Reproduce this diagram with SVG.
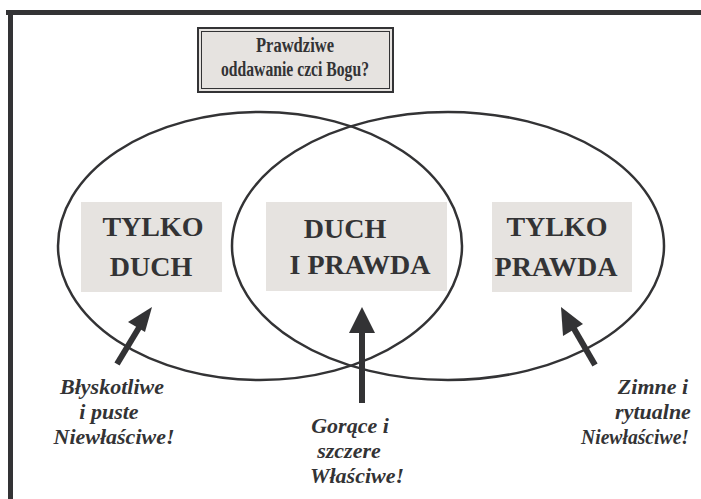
<svg xmlns="http://www.w3.org/2000/svg" width="701" height="499" viewBox="0 0 701 499">
<style>
.frame{fill:#333335}
.ell{fill:none;stroke:#333335;stroke-width:2.5}
.box{fill:#e6e3e0}
.big{font-family:"Liberation Serif","Times New Roman",serif;font-weight:bold;font-size:28px;fill:#333335;text-anchor:middle}
.title{font-family:"Liberation Serif","Times New Roman",serif;font-weight:bold;font-size:20px;fill:#333335;text-anchor:middle}
.lab{font-family:"Liberation Serif","Times New Roman",serif;font-weight:bold;font-style:italic;font-size:22px;fill:#333335;text-anchor:middle}
.arr{stroke:#333335;stroke-width:6;fill:none}
.head{fill:#333335}
</style>
<rect class="frame" x="6" y="10" width="695" height="5"/>
<rect class="frame" x="8" y="10" width="5" height="489"/>
<g id="title">
<rect x="198" y="28" width="195" height="64" fill="#e6e3e0" stroke="#333335" stroke-width="2"/>
<rect x="201.5" y="31.5" width="188" height="57" fill="none" stroke="#333335" stroke-width="1"/>
<text class="title" x="295" y="52" textLength="78" lengthAdjust="spacingAndGlyphs">Prawdziwe</text>
<text class="title" x="295" y="76" textLength="148" lengthAdjust="spacingAndGlyphs">oddawanie czci Bogu?</text>
</g>
<g id="ellipses">
<ellipse class="ell" cx="260" cy="246" rx="202" ry="134"/>
<ellipse class="ell" cx="448" cy="246" rx="216" ry="134"/>
</g>
<g id="tylko-duch">
<rect class="box" x="81" y="202" width="141" height="90"/>
<text class="big" x="153" y="236">TYLKO</text>
<text class="big" x="151" y="276">DUCH</text>
</g>
<g id="duch-i-prawda">
<rect class="box" x="266" y="202" width="181" height="89"/>
<text class="big" x="345" y="238">DUCH</text>
<text class="big" x="360" y="274">I PRAWDA</text>
</g>
<g id="tylko-prawda">
<rect class="box" x="492" y="202" width="140" height="90"/>
<text class="big" x="557" y="236">TYLKO</text>
<text class="big" x="556" y="276">PRAWDA</text>
</g>
<g id="connectors">
<line class="arr" x1="117" y1="364" x2="140" y2="326"/>
<polygon class="head" points="152,307 128,322 145,332"/>
<line class="arr" x1="362" y1="403" x2="362" y2="330"/>
<polygon class="head" points="362,307 349,333 375,333"/>
<line class="arr" x1="595" y1="365" x2="573" y2="327"/>
<polygon class="head" points="561,307 563,336 583,324"/>
</g>
<g id="label-left">
<text class="lab" x="112" y="394">Błyskotliwe</text>
<text class="lab" x="109" y="419">i puste</text>
<text class="lab" x="114" y="444">Niewłaściwe!</text>
</g>
<g id="label-center">
<text class="lab" x="350" y="433">Gorące i</text>
<text class="lab" x="349" y="458">szczere</text>
<text class="lab" x="357" y="483">Właściwe!</text>
</g>
<g id="label-right">
<text class="lab" x="653" y="394">Zimne i</text>
<text class="lab" x="653" y="419">rytualne</text>
<text class="lab" x="635" y="444" textLength="108" lengthAdjust="spacingAndGlyphs">Niewłaściwe!</text>
</g>
</svg>
